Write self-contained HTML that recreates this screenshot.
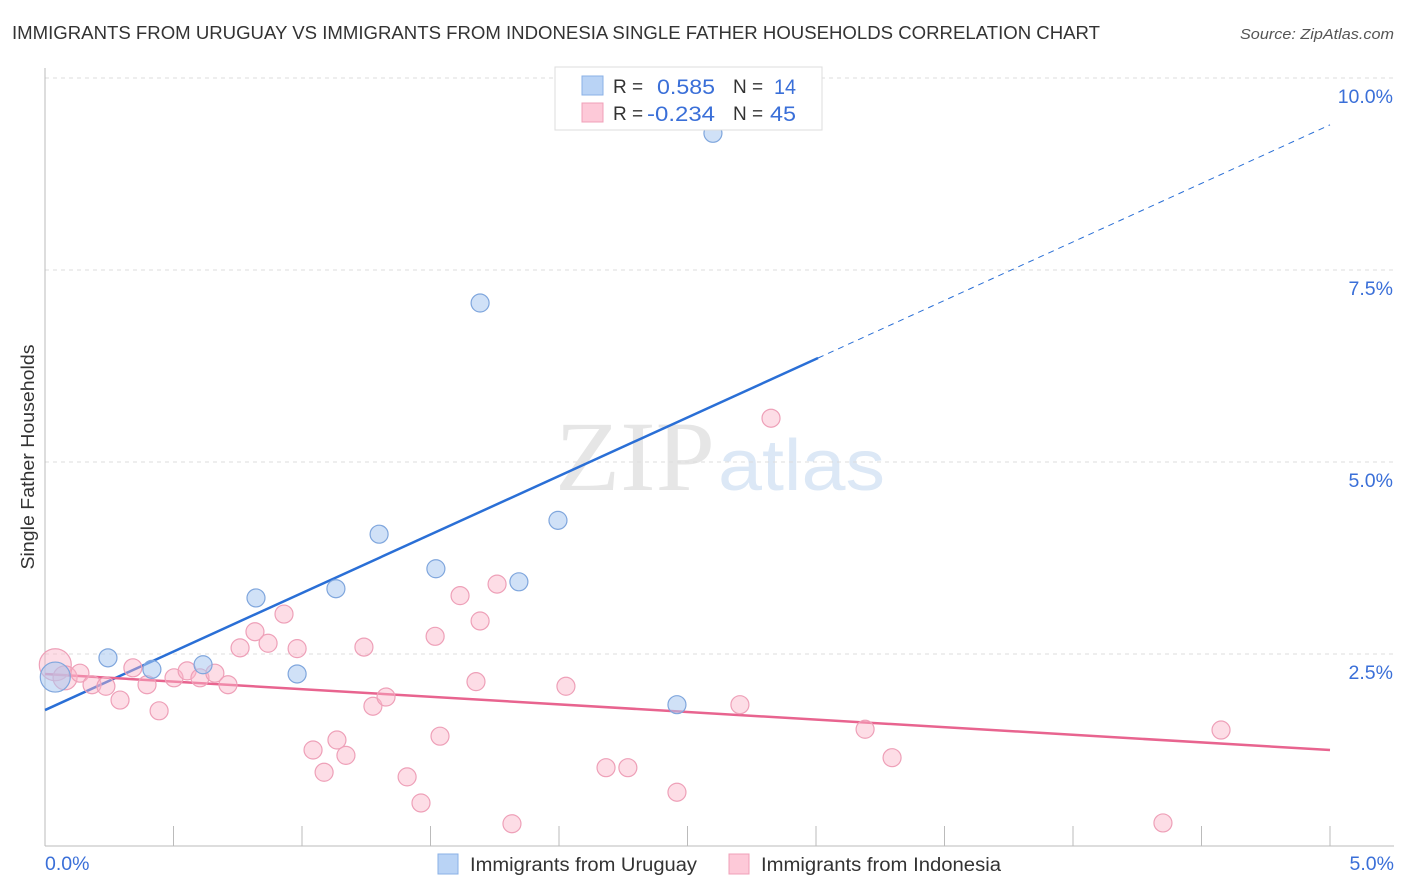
<!DOCTYPE html>
<html><head><meta charset="utf-8">
<style>
body{margin:0;background:#fff;font-family:"Liberation Sans",sans-serif;}
svg{display:block}
</style></head>
<body>
<svg id="chart" width="1406" height="892" viewBox="0 0 1406 892" xmlns="http://www.w3.org/2000/svg" font-family="Liberation Sans, sans-serif">
<text x="12" y="39" font-size="18" fill="#333" textLength="1088" lengthAdjust="spacingAndGlyphs">IMMIGRANTS FROM URUGUAY VS IMMIGRANTS FROM INDONESIA SINGLE FATHER HOUSEHOLDS CORRELATION CHART</text>
<text x="1240" y="39" font-size="15" fill="#555" font-style="italic" textLength="154" lengthAdjust="spacingAndGlyphs">Source: ZipAtlas.com</text>
<g>
<text x="555" y="490" font-size="100" font-family="Liberation Serif, serif" fill="#e6e6e6" textLength="160" lengthAdjust="spacingAndGlyphs">ZIP</text>
<text x="718" y="490" font-size="72" fill="#dce8f6" textLength="167" lengthAdjust="spacingAndGlyphs">atlas</text>
</g>
<g id="grid"></g>
<g id="axes"></g>
<g id="lines"></g>
<g id="pts"></g>
<text transform="translate(34,457) rotate(-90)" font-size="18" fill="#333" text-anchor="middle" textLength="225" lengthAdjust="spacingAndGlyphs">Single Father Households</text>
<g>
<rect x="555" y="67" width="267" height="63" fill="#fff" stroke="#ddd"/>
<rect x="582" y="76" width="21" height="19" fill="#b9d3f5" stroke="#8ab0e6"/>
<rect x="582" y="103" width="21" height="19" fill="#fdc9d8" stroke="#f0a0b8"/>
<text x="613" y="93" font-size="19" fill="#333">R =</text>
<text x="657" y="94" font-size="21" fill="#3a6fd8" textLength="58" lengthAdjust="spacingAndGlyphs">0.585</text>
<text x="733" y="93" font-size="19" fill="#333">N =</text>
<text x="774" y="94" font-size="21" fill="#3a6fd8" textLength="22" lengthAdjust="spacingAndGlyphs">14</text>
<text x="613" y="120" font-size="19" fill="#333">R =</text>
<text x="647" y="121" font-size="21" fill="#3a6fd8" textLength="68" lengthAdjust="spacingAndGlyphs">-0.234</text>
<text x="733" y="120" font-size="19" fill="#333">N =</text>
<text x="770" y="121" font-size="21" fill="#3a6fd8" textLength="26" lengthAdjust="spacingAndGlyphs">45</text>
</g>
<g>
<rect x="438" y="854" width="20" height="20" fill="#b9d3f5" stroke="#8ab0e6"/>
<text x="470" y="871" font-size="19" fill="#333" textLength="227" lengthAdjust="spacingAndGlyphs">Immigrants from Uruguay</text>
<rect x="729" y="854" width="20" height="20" fill="#fdc9d8" stroke="#f0a0b8"/>
<text x="761" y="871" font-size="19" fill="#333" textLength="240" lengthAdjust="spacingAndGlyphs">Immigrants from Indonesia</text>
</g>
</svg>
<script>
const yTicks=[2.5,5.0,7.5,10.0];
const yTickLabels=["2.5%","5.0%","7.5%","10.0%"];
const xTicks=[0.5,1,1.5,2,2.5,3,3.5,4,4.5,5];
const uruguayX=[0.04,0.245,0.416,0.615,0.821,0.981,1.132,1.300,1.521,1.693,1.844,1.996,2.459,2.599];
const uruguayY=[2.20,2.45,2.30,2.36,3.23,2.24,3.35,4.06,3.61,7.07,3.44,4.24,1.84,9.28];
const uruguaySize=[15,9,9,9,9,9,9,9,9,9,9,9,9,9];
const indonesiaX=[0.04,0.078,0.136,0.183,0.237,0.292,0.342,0.397,0.444,0.502,0.553,0.603,0.661,0.712,0.759,0.817,0.868,0.930,0.981,1.043,1.086,1.136,1.171,1.241,1.276,1.327,1.409,1.463,1.518,1.537,1.615,1.677,1.693,1.759,1.817,2.027,2.183,2.268,2.459,2.704,2.825,3.191,3.296,4.350,4.576];
const indonesiaY=[2.36,2.19,2.25,2.10,2.08,1.90,2.32,2.10,1.76,2.19,2.28,2.19,2.25,2.10,2.58,2.79,2.64,3.02,2.57,1.25,0.96,1.38,1.18,2.59,1.82,1.94,0.90,0.56,2.73,1.43,3.26,2.14,2.93,3.41,0.29,2.08,1.02,1.02,0.70,1.84,5.57,1.52,1.15,0.30,1.51];
const indonesiaSize=[16,12,9,9,9,9,9,9,9,9,9,9,9,9,9,9,9,9,9,9,9,9,9,9,9,9,9,9,9,9,9,9,9,9,9,9,9,9,9,9,9,9,9,9,9];
const uruguayTrend=[[0,1.77],[3.008,6.354],[5,9.39]];
const indonesiaTrend=[[0,2.24],[5,1.25]];
const X=v=>45+v*257, Y=v=>846-v*76.8;
const NS="http://www.w3.org/2000/svg";
function mk(t,a,p){const e=document.createElementNS(NS,t);for(const k in a)e.setAttribute(k,a[k]);p.appendChild(e);return e;}
const grid=document.getElementById('grid'),axes=document.getElementById('axes'),lines=document.getElementById('lines'),pts=document.getElementById('pts');
yTicks.forEach((t,i)=>{
 const l=mk('line',{x1:45,x2:1394,y1:Y(t),y2:Y(t),stroke:'#ddd','stroke-dasharray':'4,4'},grid);
 
 
 const tx=mk('text',{x:1393,y:Y(t)+25,'font-size':19.5,fill:'#3a6fd8','text-anchor':'end'},axes);
 tx.textContent=yTickLabels[i];
 
 
});
const ya=mk('line',{x1:45,x2:45,y1:68,y2:846,stroke:'#bbb'},axes);


const xa=mk('line',{x1:45,x2:1394,y1:846,y2:846,stroke:'#bbb'},axes);


xTicks.forEach(t=>{
 const l=mk('line',{x1:X(t),x2:X(t),y1:826,y2:846,stroke:'#bbb'},axes);
 
 
});
[[0,'0.0%','start',45],[5,'5.0%','end',1394]].forEach(d=>{
 const tx=mk('text',{x:d[3],y:870,'font-size':19.5,fill:'#3a6fd8','text-anchor':d[2]},axes);
 tx.textContent=d[1];
 
 
});
function series(xs,ys,ss,fill,stroke,name){
 xs.forEach((x,i)=>{
  const c=mk('circle',{cx:X(x),cy:Y(ys[i]),r:ss[i],fill:fill,stroke:stroke,'stroke-width':1.2},pts);
  
  
 });
}
series(indonesiaX,indonesiaY,indonesiaSize,'rgba(250,180,200,0.45)','#eea0b8','indonesia-point');
series(uruguayX,uruguayY,uruguaySize,'rgba(170,200,240,0.55)','#7fa6dd','uruguay-point');
const u1=mk('line',{x1:X(uruguayTrend[0][0]),y1:Y(uruguayTrend[0][1]),x2:X(uruguayTrend[1][0]),y2:Y(uruguayTrend[1][1]),stroke:'#2a6fd6','stroke-width':2.5},lines);


const u2=mk('line',{x1:X(uruguayTrend[1][0]),y1:Y(uruguayTrend[1][1]),x2:X(uruguayTrend[2][0]),y2:Y(uruguayTrend[2][1]),stroke:'#2a6fd6','stroke-width':1,'stroke-dasharray':'6,5'},lines);


const p1=mk('line',{x1:X(indonesiaTrend[0][0]),y1:Y(indonesiaTrend[0][1]),x2:X(indonesiaTrend[1][0]),y2:Y(indonesiaTrend[1][1]),stroke:'#e8648f','stroke-width':2.5},lines);


</script>
</body></html>
